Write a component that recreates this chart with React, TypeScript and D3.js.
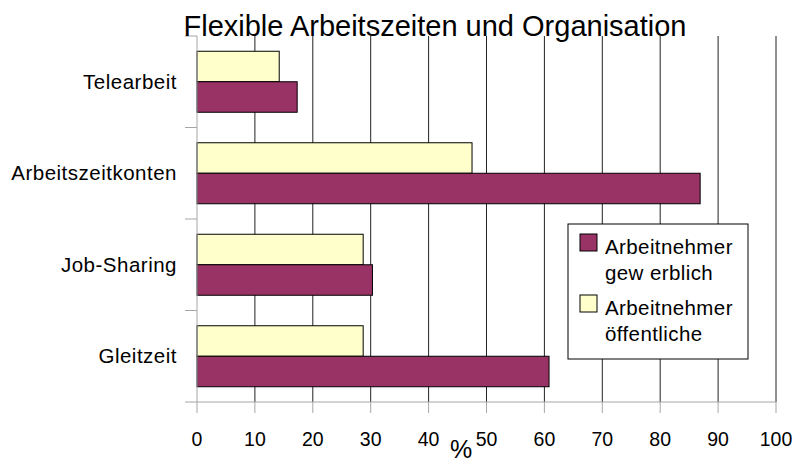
import React, { useRef, useEffect } from 'react';
import * as d3 from 'd3';

// chart data
const categories = ['Telearbeit', 'Arbeitszeitkonten', 'Job-Sharing', 'Gleitzeit'];
const oeffentliche = [14.2, 47.5, 28.7, 28.7];
const gewerblich = [17.3, 86.9, 30.3, 60.8];
const xTicks = [0, 10, 20, 30, 40, 50, 60, 70, 80, 90, 100];
const legendItems = [
  { key: 'gew', lines: ['Arbeitnehmer', 'gew erblich'] },
  { key: 'oeff', lines: ['Arbeitnehmer', 'öffentliche'] }
];
const title = 'Flexible Arbeitszeiten und Organisation';

const colors: Record<string, string> = { oeff: '#FFFFCC', gew: '#993366' };
const font = '"Liberation Sans", Arial, sans-serif';

export default function App() {
  const ref = useRef<SVGSVGElement>(null);
  const width = 796;
  const height = 464;

  useEffect(() => {
    const svg = d3.select(ref.current);
    svg.selectAll('*').remove();

    const margin = { top: 36, right: 20, bottom: 62, left: 197 };
    const w = width - margin.left - margin.right;
    const h = height - margin.top - margin.bottom;

    const x = d3.scaleLinear().domain([0, 100]).range([0, w]);
    const y = d3.scaleBand<string>().domain(categories).range([0, h]);
    const inner = d3.scaleBand<string>()
      .domain(['oeff', 'gew'])
      .range([0, y.bandwidth()])
      .paddingOuter(0.5);

    const rows = categories.map((c, i) => ({ cat: c, oeff: oeffentliche[i], gew: gewerblich[i] }));

    const g = svg.append('g').attr('transform', `translate(${margin.left},${margin.top})`);

    // vertical gridlines
    g.selectAll('.grid')
      .data(xTicks.slice(1))
      .enter()
      .append('line')
        .attr('x1', d => x(d)).attr('x2', d => x(d))
        .attr('y1', 0).attr('y2', h)
        .attr('stroke', '#222')
        .attr('stroke-width', 1);

    // bars
    const groups = g.selectAll('.cat')
      .data(rows)
      .enter()
      .append('g')
        .attr('transform', d => `translate(0,${y(d.cat)})`);

    groups.selectAll('rect')
      .data(d => (['oeff', 'gew'] as const).map(k => ({ k, v: d[k] })))
      .enter()
      .append('rect')
        .attr('x', 0)
        .attr('y', d => inner(d.k)!)
        .attr('width', d => x(d.v))
        .attr('height', inner.bandwidth())
        .attr('fill', d => colors[d.k])
        .attr('stroke', '#000')
        .attr('stroke-width', 1);

    // axes (grey)
    const axisColor = '#a6a6a6';
    g.append('line')
      .attr('x1', 0).attr('x2', 0).attr('y1', 0).attr('y2', h)
      .attr('stroke', axisColor);
    g.append('line')
      .attr('x1', 0).attr('x2', w).attr('y1', h).attr('y2', h)
      .attr('stroke', axisColor);

    // category separators
    const bounds = categories.map(c => y(c)!).concat([h]);
    g.selectAll('.sep')
      .data(bounds)
      .enter()
      .append('line')
        .attr('x1', -12).attr('x2', 0)
        .attr('y1', d => d).attr('y2', d => d)
        .attr('stroke', axisColor);

    // x ticks
    g.selectAll('.xtick')
      .data(xTicks)
      .enter()
      .append('line')
        .attr('x1', d => x(d)).attr('x2', d => x(d))
        .attr('y1', h).attr('y2', h + 11)
        .attr('stroke', axisColor);

    g.selectAll('.xlabel')
      .data(xTicks)
      .enter()
      .append('text')
        .attr('x', d => x(d))
        .attr('y', h + 44)
        .attr('text-anchor', 'middle')
        .attr('font-family', font)
        .attr('font-size', 19.5)
        .attr('fill', '#000')
        .text(d => d);

    // category labels
    g.selectAll('.ylabel')
      .data(categories)
      .enter()
      .append('text')
        .attr('x', -20)
        .attr('y', d => y(d)! + y.bandwidth() / 2)
        .attr('dy', '0.35em')
        .attr('text-anchor', 'end')
        .attr('font-family', font)
        .attr('font-size', 20.5)
        .attr('letter-spacing', 0.5)
        .attr('fill', '#000')
        .text(d => d);

    // axis title
    svg.append('text')
      .attr('x', 461)
      .attr('y', 458)
      .attr('text-anchor', 'middle')
      .attr('font-family', font)
      .attr('font-size', 25)
      .text('%');

    // title
    svg.append('text')
      .attr('x', 435)
      .attr('y', 36)
      .attr('text-anchor', 'middle')
      .attr('font-family', font)
      .attr('font-size', 29)
      .text(title);

    // legend
    const lg = svg.append('g').attr('transform', 'translate(568,224)');
    lg.append('rect')
      .attr('width', 180).attr('height', 135)
      .attr('fill', '#fff').attr('stroke', '#000');

    legendItems.forEach((item, i) => {
      const top = 10 + i * 61;
      lg.append('rect')
        .attr('x', 12).attr('y', top)
        .attr('width', 17).attr('height', 17)
        .attr('fill', colors[item.key])
        .attr('stroke', '#000');
      item.lines.forEach((line, j) => {
        lg.append('text')
          .attr('x', 37)
          .attr('y', top + 20 + j * 26)
          .attr('font-family', font)
          .attr('font-size', 20.5)
          .attr('letter-spacing', 0.4)
          .text(line);
      });
    });
  }, []);

  return (
    <svg
      ref={ref}
      width={width}
      height={height}
      style={{ position: 'absolute', left: 0, top: 0, display: 'block', background: '#fff' }}
    />
  );
}
